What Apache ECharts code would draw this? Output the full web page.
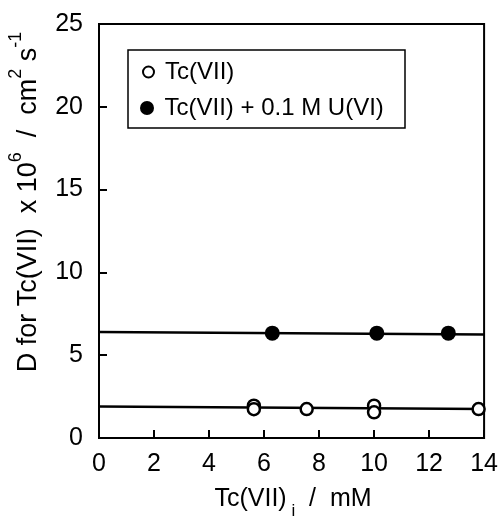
<!DOCTYPE html>
<html>
<head>
<meta charset="utf-8">
<script src="https://cdn.jsdelivr.net/npm/echarts@6/dist/echarts.min.js"></script>
<style>
html, body { margin: 0; padding: 0; background: #fff; }
#chart { width: 501px; height: 518px; }
</style>
</head>
<body>
<div id="chart"></div>
<script>
// data
var xTicks = [0, 2, 4, 6, 8, 10, 12, 14];
var yTicks = [0, 5, 10, 15, 20, 25];
var tcOnly = [[5.63, 1.95], [5.63, 1.74], [7.55, 1.75], [10.0, 1.95], [10.0, 1.55], [13.8, 1.75]];
var tcWithU = [[6.3, 6.33], [10.1, 6.33], [12.7, 6.33]];
var fitTcOnly = [[0, 1.9], [14, 1.75]];
var fitTcWithU = [[0, 6.4], [14, 6.25]];
var names = ['Tc(VII)', 'Tc(VII) + 0.1 M U(VI)'];

var FONT = 'Liberation Sans, Arial, Helvetica, sans-serif';
var myChart = echarts.init(document.getElementById('chart'));

var option = {
    backgroundColor: '#fff',
    animation: false,
    textStyle: { fontFamily: FONT, color: '#000' },
    grid: {
        left: 99, right: 14, top: 24, bottom: 80,
        show: true, borderColor: '#000', borderWidth: 2
    },
    legend: [{
        data: [names[0]],
        left: 142, top: 60, padding: 0,
        itemWidth: 23, itemHeight: 11,
        textStyle: { fontSize: 24, color: '#000', fontFamily: FONT }
    }, {
        data: [names[1]],
        left: 140, top: 96, padding: 0,
        itemWidth: 25, itemHeight: 14,
        textStyle: { fontSize: 24, color: '#000', fontFamily: FONT }
    }],
    xAxis: {
        type: 'value',
        min: xTicks[0], max: xTicks[xTicks.length - 1], interval: 2,
        axisLine: { lineStyle: { color: '#000', width: 2 } },
        axisTick: { inside: true, length: 8, lineStyle: { color: '#000', width: 2 } },
        axisLabel: { fontSize: 25, color: '#000', margin: 14, fontFamily: FONT },
        splitLine: { show: false }
    },
    yAxis: {
        type: 'value',
        min: yTicks[0], max: yTicks[yTicks.length - 1], interval: 5,
        axisLine: { lineStyle: { color: '#000', width: 2 } },
        axisTick: { inside: true, length: 8, lineStyle: { color: '#000', width: 2 } },
        axisLabel: { fontSize: 25, color: '#000', margin: 16, fontFamily: FONT },
        splitLine: { show: false }
    },
    graphic: [{
        type: 'rect',
        shape: { x: 128, y: 50, width: 277, height: 78 },
        style: { fill: 'none', stroke: '#000', lineWidth: 1.5 },
        z: 10
    }, {
        type: 'text',
        x: 25, y: 202,
        rotation: Math.PI / 2,
        style: {
            text: '{n|D for Tc(VII)  x 10}{s|6}{n|  /  cm}{s|2}{n| s}{s|-1}',
            align: 'center', verticalAlign: 'middle',
            rich: {
                n: { fontSize: 27, fontFamily: FONT, fill: '#000', verticalAlign: 'bottom', lineHeight: 35 },
                s: { fontSize: 18, fontFamily: FONT, fill: '#000', verticalAlign: 'top', lineHeight: 35 }
            }
        }
    }, {
        type: 'text',
        x: 293, y: 503,
        style: {
            text: '{n|Tc(VII)}{b| i}{n|  /  mM}',
            align: 'center', verticalAlign: 'middle',
            rich: {
                n: { fontSize: 25, fontFamily: FONT, fill: '#000', verticalAlign: 'top', lineHeight: 33 },
                b: { fontSize: 17, fontFamily: FONT, fill: '#000', verticalAlign: 'bottom', lineHeight: 33 }
            }
        }
    }],
    series: [{
        name: 'fit1',
        type: 'line',
        data: fitTcOnly,
        symbol: 'none',
        lineStyle: { color: '#000', width: 2.5 },
        z: 1
    }, {
        name: 'fit2',
        type: 'line',
        data: fitTcWithU,
        symbol: 'none',
        lineStyle: { color: '#000', width: 2.5 },
        z: 1
    }, {
        name: names[0],
        type: 'scatter',
        data: tcOnly,
        symbol: 'circle',
        symbolSize: 12,
        itemStyle: { color: '#fff', borderColor: '#000', borderWidth: 2.5, opacity: 1 },
        z: 3
    }, {
        name: names[1],
        type: 'scatter',
        data: tcWithU,
        symbol: 'circle',
        symbolSize: 15,
        itemStyle: { color: '#000', opacity: 1 },
        z: 3
    }]
};
myChart.setOption(option);
window.addEventListener("resize", function () {
    myChart.resize();
});
</script>
</body>
</html>
